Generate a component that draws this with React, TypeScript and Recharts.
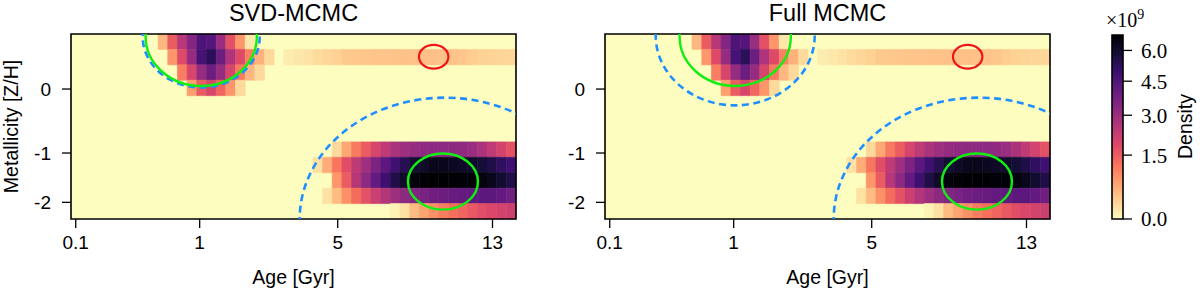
import React from "react";
import { ComposedChart, XAxis, YAxis, ReferenceArea, Scatter } from "recharts";

// grid: 46 age bins x 12 metallicity bins, density in units of 1e9
const N_AGE = 46;
const N_MET = 12;

const AGE_TICK_POS = [0.49, 13.3, 27.57, 43.57];
const AGE_TICK_LABELS = ["0.1", "1", "5", "13"];
const MET_TICK_POS = [1.08, 4.28, 8.43];
const MET_TICK_LABELS = ["-2", "-1", "0"];

const CBAR_TICKS = [0, 1.5, 3, 4.5, 6];
const CBAR_TICK_LABELS = ["0.0", "1.5", "3.0", "4.5", "6.0"];
const VMAX = 6.8;
const GAMMA = 0.7; // power norm of the colour scale

// one row per [Z/H] bin, values per age bin
const Z_P040 = [
  0, 0, 0, 0, 0, 0, 0, 0, 0, 0.45,
  1.52, 2.53, 3.43, 4.51, 4.42, 3.05, 1.71, 0.78, 0.09, 0,
  0, 0, 0, 0, 0, 0, 0, 0, 0, 0,
  0, 0, 0, 0, 0, 0, 0, 0, 0, 0,
  0, 0, 0, 0, 0, 0,
];
const Z_P026 = [
  0, 0, 0, 0, 0, 0, 0, 0, 0, 0,
  0.78, 1.84, 3.12, 4.68, 5.3, 3.92, 2.67, 1.84, 1.0, 0.5,
  0.18, 0, 0.06, 0.08, 0.11, 0.16, 0.2, 0.24, 0.3, 0.31,
  0.32, 0.33, 0.34, 0.35, 0.36, 0.36, 0.37, 0.37, 0.36, 0.35,
  0.32, 0.27, 0.24, 0.22, 0.21, 0.2,
];
const Z_P015 = [
  0, 0, 0, 0, 0, 0, 0, 0, 0, 0,
  0, 1.05, 1.97, 3.12, 3.92, 3.12, 1.97, 1.1, 0.45, 0.18,
  0, 0, 0, 0, 0, 0, 0, 0, 0, 0,
  0, 0, 0, 0, 0, 0, 0, 0, 0, 0,
  0, 0, 0, 0, 0, 0,
];
const Z_P006 = [
  0, 0, 0, 0, 0, 0, 0, 0, 0, 0,
  0, 0, 0.68, 1.52, 1.97, 1.39, 0.78, 0.18, 0, 0,
  0, 0, 0, 0, 0, 0, 0, 0, 0, 0,
  0, 0, 0, 0, 0, 0, 0, 0, 0, 0,
  0, 0, 0, 0, 0, 0,
];
const Z_M025 = [
  0, 0, 0, 0, 0, 0, 0, 0, 0, 0,
  0, 0, 0, 0, 0, 0, 0, 0, 0, 0,
  0, 0, 0, 0, 0, 0, 0, 0, 0, 0,
  0, 0, 0, 0, 0, 0, 0, 0, 0, 0,
  0, 0, 0, 0, 0, 0,
];
const Z_M035 = [...Z_M025];
const Z_M066 = [...Z_M025];
const Z_M096 = [
  0, 0, 0, 0, 0, 0, 0, 0, 0, 0,
  0, 0, 0, 0, 0, 0, 0, 0, 0, 0,
  0, 0, 0, 0, 0, 0, 0, 0.18, 0.59, 1.1,
  1.52, 1.97, 2.38, 2.75, 2.97, 3.12, 3.2, 3.28, 3.28, 3.28,
  3.2, 3.05, 2.75, 2.38, 2.04, 1.71,
];
const Z_M126 = [
  0, 0, 0, 0, 0, 0, 0, 0, 0, 0,
  0, 0, 0, 0, 0, 0, 0, 0, 0, 0,
  0, 0, 0, 0, 0, 0.12, 0.54, 1.16, 1.77, 2.38,
  2.97, 3.59, 4.25, 4.86, 5.39, 5.85, 6.13, 6.32, 6.32, 6.22,
  6.13, 6.04, 5.85, 5.57, 5.21, 4.86,
];
const Z_M149 = [
  0, 0, 0, 0, 0, 0, 0, 0, 0, 0,
  0, 0, 0, 0, 0, 0, 0, 0, 0, 0,
  0, 0, 0, 0, 0, 0, 0, 0.78, 1.52, 2.53,
  3.28, 4.08, 4.86, 5.57, 6.13, 6.61, 6.72, 6.8, 6.8, 6.78,
  6.75, 6.7, 6.61, 6.32, 5.95, 5.57,
];
const Z_M179 = [
  0, 0, 0, 0, 0, 0, 0, 0, 0, 0,
  0, 0, 0, 0, 0, 0, 0, 0, 0, 0,
  0, 0, 0, 0, 0, 0, 0.12, 0.41, 0.83, 1.28,
  1.71, 2.17, 2.6, 2.97, 3.28, 3.51, 3.67, 3.84, 3.92, 4.0,
  4.08, 4.17, 4.25, 4.25, 4.08, 3.84,
];
const Z_M227 = [
  0, 0, 0, 0, 0, 0, 0, 0, 0, 0,
  0, 0, 0, 0, 0, 0, 0, 0, 0, 0,
  0, 0, 0, 0, 0, 0, 0, 0, 0, 0,
  0, 0, 0, 0.03, 0.12, 0.41, 0.63, 0.83, 1.05, 1.22,
  1.39, 1.58, 1.77, 1.9, 2.04, 2.17,
];
// top ([Z/H]=0.40) to bottom ([Z/H]=-2.27)
const DENSITY_ROWS = [
  Z_P040, Z_P026, Z_P015, Z_P006, Z_M025, Z_M035,
  Z_M066, Z_M096, Z_M126, Z_M149, Z_M179, Z_M227,
];

// contours, in bin units (x: age bin, y: metallicity bin counted from bottom)
const GREEN_SVD = [
  { x: 13.46, y: 11.83, rx: 5.75, ry: 3.2 },
  { x: 38.45, y: 2.43, rx: 3.62, ry: 1.82 },
];
const BLUE_SVD = [
  { x: 13.46, y: 11.83, rx: 6.05, ry: 3.3 },
  { x: 38.63, y: 0, rx: 14.99, ry: 7.87 },
];
const GREEN_FULL = [
  { x: 13.46, y: 11.83, rx: 5.75, ry: 3.2 },
  { x: 38.45, y: 2.43, rx: 3.62, ry: 1.82 },
];
const BLUE_FULL = [
  { x: 13.46, y: 11.9, rx: 8.22, ry: 4.53 },
  { x: 38.63, y: 0, rx: 14.99, ry: 7.87 },
];
const RED_POINT = [{ x: 37.49, y: 10.52, rx: 1.52, ry: 0.77 }];

// layout
const PLOT_LEFT = 71;
const PLOT_TOP = 34;
const PLOT_W = 445;
const PLOT_H = 185;
const X_AXIS_H = 30;
const PANEL_W = 530;
const H = 291;
const PX_X = PLOT_W / N_AGE;
const PX_Y = PLOT_H / N_MET;

const SANS = "'Liberation Sans', Arial, sans-serif";
const SERIF = "'Liberation Serif', 'Times New Roman', serif";

const MAGMA = [
  "#000004", "#140e36", "#3b0f70", "#641a80", "#8c2981", "#b73779",
  "#de4968", "#f7705c", "#fe9f6d", "#fecf92", "#fcfdbf",
];

function hexToRgb(h: string) {
  return [1, 3, 5].map((i) => parseInt(h.slice(i, i + 2), 16));
}

// reversed magma, p in [0,1]
function magmaR(p: number) {
  const t = (1 - Math.max(0, Math.min(1, p))) * 10;
  const i = Math.min(9, Math.floor(t));
  const f = t - i;
  const a = hexToRgb(MAGMA[i]);
  const b = hexToRgb(MAGMA[i + 1]);
  const c = a.map((v, k) => Math.round(v + (b[k] - v) * f));
  return `rgb(${c[0]},${c[1]},${c[2]})`;
}

function densityColor(v: number) {
  return magmaR(Math.pow(Math.min(v / VMAX, 1), GAMMA));
}

const CELLS = DENSITY_ROWS.flatMap((row, t) =>
  row
    .map((v, c) => ({ c, r: N_MET - 1 - t, v }))
    .filter((d) => d.v > 0)
);

const ellipseShape =
  (stroke: string, width: number, dash: string | undefined, clipId: string) =>
  (props: any) => {
    const { cx, cy, payload, index } = props;
    const id = `${clipId}-${index ?? 0}`;
    return (
      <g>
        <defs>
          <clipPath id={id}>
            <rect x={PLOT_LEFT} y={PLOT_TOP} width={PLOT_W} height={PLOT_H} />
          </clipPath>
        </defs>
        <ellipse
          cx={cx}
          cy={cy}
          rx={payload.rx * PX_X}
          ry={payload.ry * PX_Y}
          fill="none"
          stroke={stroke}
          strokeWidth={width}
          strokeDasharray={dash}
          clipPath={`url(#${id})`}
        />
      </g>
    );
  };

const tickStyle = { fontFamily: SANS, fontSize: 19, fill: "#000" };
const tickLine = { stroke: "#000", strokeWidth: 1.3 };

function Panel({ id, green, blue }: { id: string; green: any[]; blue: any[] }) {
  return (
    <ComposedChart
      width={PANEL_W}
      height={H}
      margin={{
        top: PLOT_TOP,
        right: PANEL_W - PLOT_LEFT - PLOT_W,
        bottom: H - PLOT_TOP - PLOT_H - X_AXIS_H,
        left: 0,
      }}
    >
      <XAxis
        type="number"
        dataKey="x"
        domain={[0, N_AGE]}
        ticks={AGE_TICK_POS}
        interval={0}
        tickFormatter={(v) => AGE_TICK_LABELS[AGE_TICK_POS.indexOf(v)]}
        height={X_AXIS_H}
        tickSize={9}
        tickMargin={8}
        axisLine={false}
        tickLine={tickLine}
        tick={tickStyle}
      />
      <YAxis
        type="number"
        dataKey="y"
        domain={[0, N_MET]}
        ticks={MET_TICK_POS}
        interval={0}
        tickFormatter={(v) => MET_TICK_LABELS[MET_TICK_POS.indexOf(v)]}
        width={PLOT_LEFT}
        tickSize={9}
        tickMargin={11}
        axisLine={false}
        tickLine={tickLine}
        tick={tickStyle}
      />
      <ReferenceArea
        x1={0}
        x2={N_AGE}
        y1={0}
        y2={N_MET}
        fill={magmaR(0)}
        fillOpacity={1}
        stroke="none"
      />
      {CELLS.map((d) => (
        <ReferenceArea
          key={`${d.r}-${d.c}`}
          x1={d.c}
          x2={d.c + 1}
          y1={d.r}
          y2={d.r + 1}
          fill={densityColor(d.v)}
          fillOpacity={1}
          stroke={densityColor(d.v)}
          strokeWidth={0.6}
        />
      ))}
      <Scatter
        data={blue}
        isAnimationActive={false}
        shape={ellipseShape("#1f8fff", 2.6, "7 4.5", `${id}-blue`)}
      />
      <Scatter
        data={green}
        isAnimationActive={false}
        shape={ellipseShape("#11ee11", 2.4, undefined, `${id}-green`)}
      />
      <Scatter
        data={RED_POINT}
        isAnimationActive={false}
        shape={ellipseShape("#f01515", 2.2, undefined, `${id}-red`)}
      />
      <ReferenceArea
        x1={0}
        x2={N_AGE}
        y1={0}
        y2={N_MET}
        fill="none"
        stroke="#000"
        strokeWidth={1.6}
      />
    </ComposedChart>
  );
}

const T_MAX = Math.pow(VMAX, GAMMA);
const CBAR_TICK_POS = CBAR_TICKS.map((v) => Math.pow(v, GAMMA));
// anchor points of the colour bar (bottom and top of the scale)
const CBAR_ENDS = [
  { x: 0, y: 0 },
  { x: 1, y: T_MAX },
];

function ColorBar() {
  const left = 52;
  const w = 11;
  const axisW = 60;
  return (
    <ComposedChart
      width={140}
      height={H}
      margin={{ top: 35, right: 140 - left - w - axisW, bottom: H - 219, left }}
    >
      <defs>
        <linearGradient id="cbar-grad" x1="0" y1="1" x2="0" y2="0">
          {MAGMA.map((_, k) => (
            <stop key={k} offset={k / 10} stopColor={magmaR(k / 10)} />
          ))}
        </linearGradient>
      </defs>
      <XAxis type="number" dataKey="x" domain={[0, 1]} hide />
      <YAxis
        type="number"
        dataKey="y"
        orientation="right"
        domain={[0, T_MAX]}
        ticks={CBAR_TICK_POS}
        interval={0}
        tickFormatter={(v) => CBAR_TICK_LABELS[CBAR_TICK_POS.indexOf(v)]}
        width={axisW}
        tickSize={9}
        tickMargin={9}
        axisLine={false}
        tickLine={tickLine}
        tick={{ fontFamily: SERIF, fontSize: 21, fill: "#000" }}
      />
      <ReferenceArea
        x1={0}
        x2={1}
        y1={0}
        y2={T_MAX}
        fill="url(#cbar-grad)"
        fillOpacity={1}
        stroke="#000"
        strokeWidth={1.6}
      />
      <Scatter data={CBAR_ENDS} isAnimationActive={false} shape={() => <g />} />
    </ComposedChart>
  );
}

export default function App() {
  const cxL = PLOT_LEFT + PLOT_W / 2;
  const cxR = 534 + PLOT_LEFT + PLOT_W / 2;
  const midY = PLOT_TOP + PLOT_H / 2;
  return (
    <div
      style={{
        position: "absolute",
        left: 0,
        top: 0,
        width: 1200,
        height: H,
        background: "#fff",
        overflow: "hidden",
      }}
    >
      <div style={{ position: "absolute", left: 0, top: 0 }}>
        <Panel id="svd" green={GREEN_SVD} blue={BLUE_SVD} />
      </div>
      <div style={{ position: "absolute", left: 534, top: 0 }}>
        <Panel id="full" green={GREEN_FULL} blue={BLUE_FULL} />
      </div>
      <div style={{ position: "absolute", left: 1060, top: 0 }}>
        <ColorBar />
      </div>
      <svg
        width={1200}
        height={H}
        style={{ position: "absolute", left: 0, top: 0, pointerEvents: "none" }}
      >
        <g fontFamily={SANS} fill="#000" textAnchor="middle">
          <text x={cxL} y={21} fontSize={23.5}>SVD-MCMC</text>
          <text x={cxR} y={21} fontSize={23.5}>Full MCMC</text>
          <text x={cxL} y={284} fontSize={19.5}>Age [Gyr]</text>
          <text x={cxR} y={284} fontSize={19.5}>Age [Gyr]</text>
          <text transform={`translate(18,${midY}) rotate(-90)`} fontSize={19.5}>
            Metallicity [Z/H]
          </text>
          <text transform={`translate(1192,${midY}) rotate(-90)`} fontSize={19.5}>
            Density
          </text>
        </g>
        <text x={1106} y={27} fontFamily={SERIF} fontSize={20} fill="#000">
          ×10
          <tspan dy={-8} fontSize={14}>9</tspan>
        </text>
      </svg>
    </div>
  );
}
